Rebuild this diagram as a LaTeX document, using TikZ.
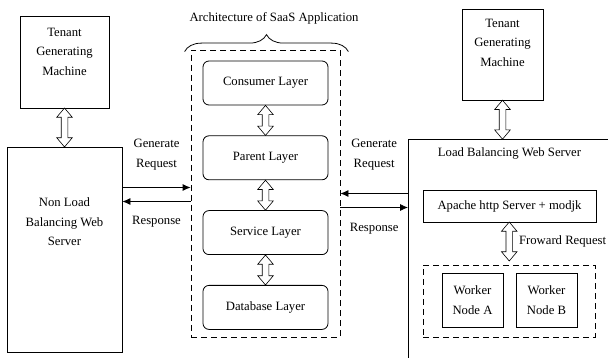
\documentclass[tikz,border=0pt]{standalone}
\usepackage{fontspec}
\setmainfont{Liberation Serif}
\usetikzlibrary{positioning, arrows.meta, shapes.arrows, decorations.pathreplacing}

\begin{document}
\begin{tikzpicture}[> = {Latex[length = 8pt, width = 7pt]}, x = 1pt, y = -1pt,
	font = \fontsize{12.7}{19.5}\selectfont,
	box/.style = {draw, line width = 0.8pt, align = center, inner sep = 0pt},
	layer/.style = {box, rounded corners = 6pt, minimum width = 125pt, minimum height = 44pt},
	group/.style = {draw, line width = 0.8pt, dash pattern = on 6pt off 4pt, inner sep = 0pt},
	dblarrow/.style = {double arrow, draw, fill = white, line width = 0.6pt, inner sep = 3pt,
		double arrow head extend = 4.5pt, double arrow tip angle = 80, shape border rotate = 90},
	tag/.style = {align = center, inner sep = 0pt}]

	\useasboundingbox (0, 0) rectangle (608, 358);

	% Left tenant and non load balancing server

	\node [box, minimum width = 89pt, minimum height = 92pt,
		label = {[tag, anchor = north, yshift = -12pt]north:Tenant\\Generating\\Machine}] (lten) at (64.5, 62) {};
	\node [box, minimum width = 115pt, minimum height = 205pt,
		label = {[tag, anchor = north, yshift = -51pt]north:Non Load\\Balancing Web\\Server}] (nlbs) at (64.5, 249.5) {};
	\path (lten.south) -- node [dblarrow, minimum height = 39pt] {} (nlbs.north);

	% SaaS architecture

	\node [group, minimum width = 149pt, minimum height = 287pt] (saas) at (265.5, 193.5) {};
	\draw [line width = 0.8pt, decorate, decoration = {brace, amplitude = 17pt}]
		([xshift = -6pt, yshift = -2pt] saas.north west) -- ([xshift = 8pt, yshift = -2pt] saas.north east);
	\node [tag] (title) at (274, 18) {Architecture of SaaS Application};

	\node [layer] (consumer) at (265.5, 83) {Consumer Layer};
	\node [layer, below = 30pt of consumer] (parent) {Parent Layer};
	\node [layer, below = 30pt of parent] (service) {Service Layer};
	\node [layer, below = 30pt of service] (database) {Database Layer};

	\path (consumer.south) -- node [dblarrow, minimum height = 30pt] {} (parent.north);
	\path (parent.south) -- node [dblarrow, minimum height = 30pt] {} (service.north);
	\path (service.south) -- node [dblarrow, minimum height = 30pt] {} (database.north);

	% Right tenant and load balancing server

	\node [box, minimum width = 81pt, minimum height = 91pt,
		label = {[tag, anchor = north, yshift = -10pt]north:Tenant\\Generating\\Machine}] (rten) at (502.5, 54.5) {};
	\node [box, minimum width = 260pt, minimum height = 260pt, anchor = north west] (lbws) at (408, 139) {};
	\path (rten.south) -- node [dblarrow, minimum height = 39pt] {} (rten.south |- lbws.north);

	\node [box, minimum width = 173pt, minimum height = 32pt] (apache) at (509.5, 206) {Apache http Server + modjk};
	\node [tag, above = 30pt of apache] (lbtitle) {Load Balancing Web Server};
	\node [group, minimum width = 172pt, minimum height = 72pt] (workers) at (509, 301) {};
	\node [box, minimum width = 61pt, minimum height = 54pt] (wa) at (472.5, 300) {Worker\\Node A};
	\node [box, minimum width = 61pt, minimum height = 54pt] (wb) at (546.5, 300) {Worker\\Node B};
	\path (apache.south) -- node [dblarrow, minimum height = 39pt, yshift = 2pt] (fwd) {} (workers.north);
	\node [tag, anchor = west, right = 6pt of fwd] {Froward Request};

	% Requests and responses

	\draw [->, line width = 0.8pt] ([yshift = 62pt] nlbs.east) -- node [tag, above = 17pt] {Generate\\Request}
		([yshift = 62pt] nlbs.east -| saas.west);
	\draw [<-, line width = 0.8pt] ([yshift = 48pt] nlbs.east) -- node [tag, below = 14pt] {Response}
		([yshift = 48pt] nlbs.east -| saas.west);
	\draw [<-, line width = 0.8pt] (saas.east) -- node [tag, above = 23pt] {Generate\\Request}
		(saas.east -| lbws.west);
	\draw [->, line width = 0.8pt] ([yshift = -14pt] saas.east) -- node [tag, below = 15pt] {Response}
		([yshift = -14pt] saas.east -| lbws.west);

\end{tikzpicture}
\end{document}
